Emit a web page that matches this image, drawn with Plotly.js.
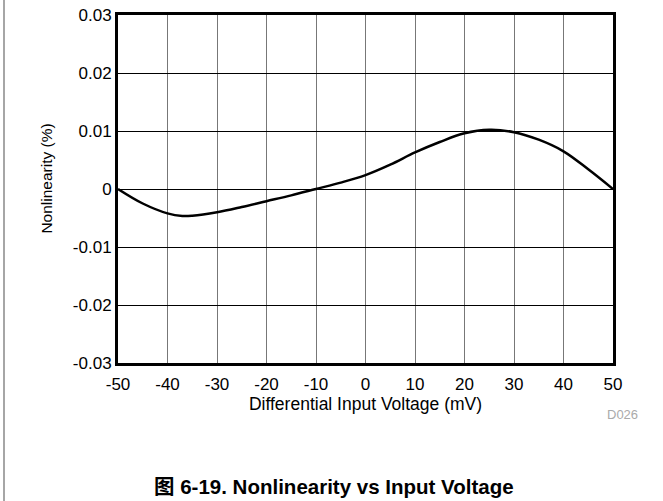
<!DOCTYPE html>
<html>
<head>
<meta charset="utf-8">
<script src="https://cdn.plot.ly/plotly-3.0.1.min.js"></script>
<style>html,body{margin:0;padding:0;background:#fff;}#chart{width:663px;height:501px;}</style>
</head>
<body>
<div id="chart"></div>
<script>
// Differential input voltage (mV)
var voltage = [-50, -45, -40, -37, -35, -30, -25, -20, -15, -10, -5, 0, 5, 10, 15, 20, 25, 30, 35, 40, 45, 50];
// Nonlinearity (%)
var nonlinearity = [0, -0.0025, -0.0042, -0.00465, -0.0046, -0.0040, -0.0031, -0.0021, -0.0011, 0, 0.0011, 0.0024, 0.0042, 0.0063, 0.0081, 0.0096, 0.0102, 0.0098, 0.0085, 0.0065, 0.0034, 0];
var xTicks = [-50, -40, -30, -20, -10, 0, 10, 20, 30, 40, 50];
var yTicks = [-0.03, -0.02, -0.01, 0, 0.01, 0.02, 0.03];
var yTickText = ['-0.03', '-0.02', '-0.01', '0', '0.01', '0.02', '0.03'];

var font = 'Liberation Sans, Arial, Helvetica, sans-serif';
var trace = {
  x: voltage, y: nonlinearity, mode: 'lines', type: 'scatter',
  line: {color: '#000', width: 2.5, shape: 'spline', smoothing: 1.0},
  hoverinfo: 'skip'
};
var layout = {
  width: 663, height: 501,
  margin: {l: 118, r: 50, t: 15, b: 138},
  paper_bgcolor: '#fff', plot_bgcolor: '#fff',
  showlegend: false,
  font: {family: font, size: 17, color: '#000'},
  xaxis: {
    range: [-50, 50], tickvals: xTicks, ticktext: xTicks.map(String),
    showgrid: true, gridcolor: '#777', gridwidth: 1,
    zeroline: false, showline: true, linecolor: '#000', linewidth: 3, mirror: true,
    ticks: '', ticklen: 0, ticklabelstandoff: 4, tickfont: {family: font, size: 17, color: '#000'},
    title: {text: 'Differential Input Voltage (mV)', font: {family: font, size: 17.5, color: '#000'}, standoff: 1}
  },
  yaxis: {
    range: [-0.03, 0.03], tickvals: yTicks, ticktext: yTickText,
    showgrid: true, gridcolor: '#000', gridwidth: 1,
    zeroline: false, showline: true, linecolor: '#000', linewidth: 3, mirror: true,
    ticks: '', ticklen: 0, tickfont: {family: font, size: 17, color: '#000'}
  },
  shapes: [
    {type: 'line', xref: 'paper', yref: 'paper', x0: -0.2303, x1: -0.2303, y0: 1.05, y1: -0.41,
     line: {color: '#888', width: 1.5}}
  ],
  annotations: [
    {text: 'Nonlinearity (%)', xref: 'paper', yref: 'paper', x: -0.1434, y: 0.530, textangle: -90,
     showarrow: false, xanchor: 'center', yanchor: 'middle', font: {family: font, size: 15.5, color: '#000'}},
    {text: 'D026', xref: 'paper', yref: 'paper', x: 1.0202, y: -0.1466, showarrow: false,
     xanchor: 'center', yanchor: 'middle', font: {family: font, size: 13, color: '#aaa'}},
    {text: '<b>图 6-19. Nonlinearity vs Input Voltage</b>', xref: 'paper', yref: 'paper', x: 0.4364, y: -0.3563,
     showarrow: false, xanchor: 'center', yanchor: 'middle',
     font: {family: 'Liberation Sans, Arial, Noto Sans CJK SC, sans-serif', size: 20.5, color: '#000'}}
  ]
};
Plotly.newPlot('chart', [trace], layout, {displayModeBar: false, staticPlot: true});
</script>
</body>
</html>
